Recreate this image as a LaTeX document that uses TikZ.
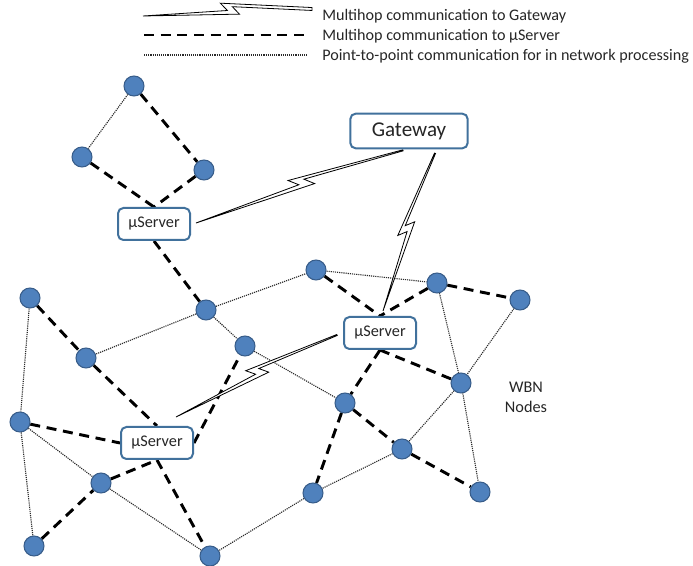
\documentclass[tikz,border=0pt]{standalone}
\usepackage{fontspec}
\setmainfont{Carlito}
\usepackage{xcolor}
\definecolor{cNode}{HTML}{4F81BD}
\definecolor{cNodeEdge}{HTML}{385D8A}
\definecolor{cBox}{HTML}{41719C}
\definecolor{cText}{HTML}{262626}
\definecolor{cDot}{HTML}{2A2A2A}
\usepackage{tikz}
\usetikzlibrary{calc,backgrounds}
\tikzset{
  node-wbn/.style={circle,draw=cNodeEdge,line width=0.8pt,fill=cNode,
    minimum size=15pt,inner sep=0pt},
  node-server/.style={draw=cBox,line width=1.5pt,fill=white,rounded corners=4pt,
    minimum width=54pt,minimum height=24pt,inner sep=1pt,
    font=\fontsize{12.2}{14}\selectfont,text=cText},
  node-gw/.style={node-server,minimum width=88pt,minimum height=26pt,
    font=\fontsize{15.8}{18}\selectfont},
  node-legend/.style={anchor=west,inner sep=0pt,
    font=\fontsize{12.1}{14}\selectfont,text=cText},
  link-hop/.style={line width=2.2pt,dash pattern=on 7.5pt off 5pt,draw=black},
  link-p2p/.style={line width=0.85pt,dash pattern=on 0.85pt off 0.75pt,draw=cDot},
  link-bolt/.style={line width=0.6pt,draw=black,fill=white,line join=miter},
}
% lightning link: narrow at #2, end half width #1 at #3
\newcommand{\bolt}[3][0.4pt]{%
  \draw[link-bolt] (#2)
    -- ($(#2)!.50!(#3)!1.5pt!90:(#3)$)
    -- ($(#2)!.46!(#3)!7.2pt!90:(#3)$)
    -- ($(#3)!#1!-90:(#2)$)
    -- ($(#3)!#1!90:(#2)$)
    -- ($(#2)!.53!(#3)!4.2pt!90:(#3)$)
    -- ($(#2)!.57!(#3)!1.6pt!-90:(#3)$)
    -- cycle;}

\begin{document}
\begin{tikzpicture}[x=0.75pt,y=-0.75pt]
  \useasboundingbox (0,0) rectangle (693,566);

  % legend
  \coordinate (lg-bolt-a) at (143,16);
  \coordinate (lg-bolt-b) at (312,9);
  \coordinate (lg-hop-a) at (144,35);
  \coordinate (lg-hop-b) at (307,35);
  \coordinate (lg-p2p-a) at (144,55);
  \coordinate (lg-p2p-b) at (307,55);
  \node[node-legend] (lg-bolt) at (322,16) {Multihop communication to Gateway};
  \node[node-legend] (lg-hop) at (322,36) {Multihop communication to µServer};
  \node[node-legend] (lg-p2p) at (322,56) {Point-to-point communication for in network processing};

  % gateway and servers
  \node[node-gw] (gw) at (409,131) {Gateway};
  \node[node-server] (srvA) at (154,224) {µServer};
  \node[node-server] (srvB) at (380,333) {µServer};
  \node[node-server] (srvC) at (157,443) {µServer};

  % WBN nodes
  \node[node-wbn] (w1) at (134,86) {};
  \node[node-wbn] (w2) at (82,157) {};
  \node[node-wbn] (w3) at (204,170) {};
  \node[node-wbn] (w4) at (206,310) {};
  \node[node-wbn] (w5) at (316,270) {};
  \node[node-wbn] (w6) at (437,283) {};
  \node[node-wbn] (w7) at (520,300) {};
  \node[node-wbn] (w8) at (461,383) {};
  \node[node-wbn] (w9) at (345,403) {};
  \node[node-wbn] (w10) at (402,449) {};
  \node[node-wbn] (w11) at (480,492) {};
  \node[node-wbn] (w12) at (313,493) {};
  \node[node-wbn] (w13) at (245,346) {};
  \node[node-wbn] (w14) at (30,298) {};
  \node[node-wbn] (w15) at (86,358) {};
  \node[node-wbn] (w16) at (20,422) {};
  \node[node-wbn] (w17) at (101,483) {};
  \node[node-wbn] (w18) at (34,546) {};
  \node[node-wbn] (w19) at (210,556) {};
  \node[align=center,font=\fontsize{12.2}{15}\selectfont,text=cText] (wbn) at (526,397) {WBN\\Nodes};

  % bolt end points
  \coordinate (gw-l) at ($(gw.south)+(-6,1)$);
  \coordinate (gw-r) at ($(gw.south)+(26,4)$);
  \coordinate (srvA-r) at ($(srvA.east)+(5,-1)$);
  \coordinate (srvB-t) at ($(srvB.north)+(3,-5)$);
  \coordinate (srvB-l) at ($(srvB.west)+(-6,2)$);
  \coordinate (srvC-t) at ($(srvC.north)+(19,-9)$);

  \begin{scope}[on background layer]
    \draw[link-p2p] (w1) -- (w2) (w4) -- (w5) (w5) -- (w6) (w4) -- (w15)
      (w4) -- (w13) (w13) -- (w9) (w6) -- (w8) (w7) -- (w8) (w8) -- (w11)
      (w8) -- (w10) (w10) -- (w12) (w12) -- (w19) (w17) -- (w19)
      (w14) -- (w16) (w16) -- (w17) (w16) -- (w18);
    \draw[link-hop] (w1) -- (w3) (w2) -- (srvA.north) (w3) -- (srvA.north)
      (srvA.south) -- (w4);
    \draw[link-hop] (w14) -- (w15) (w15) -- (srvC.north) (w16) -- (srvC.west)
      (w18) -- (w17) (w17) -- (srvC.south) (srvC.south) -- (w19)
      (srvC.east) -- (w13);
    \draw[link-hop] (w5) -- (srvB.north) (w6) -- (srvB.north) (w6) -- (w7)
      (srvB.south) -- (w8) (srvB.south) -- (w9) (w9) -- (w12) (w9) -- (w10)
      (w10) -- (w11);
    \draw[link-hop] (lg-hop-a) -- (lg-hop-b);
    \draw[link-p2p] (lg-p2p-a) -- (lg-p2p-b);
    \bolt[1.1pt]{lg-bolt-a}{lg-bolt-b}
    \bolt{srvA-r}{gw-l}
    \bolt{srvB-t}{gw-r}
    \bolt{srvC-t}{srvB-l}
  \end{scope}
\end{tikzpicture}
\end{document}
